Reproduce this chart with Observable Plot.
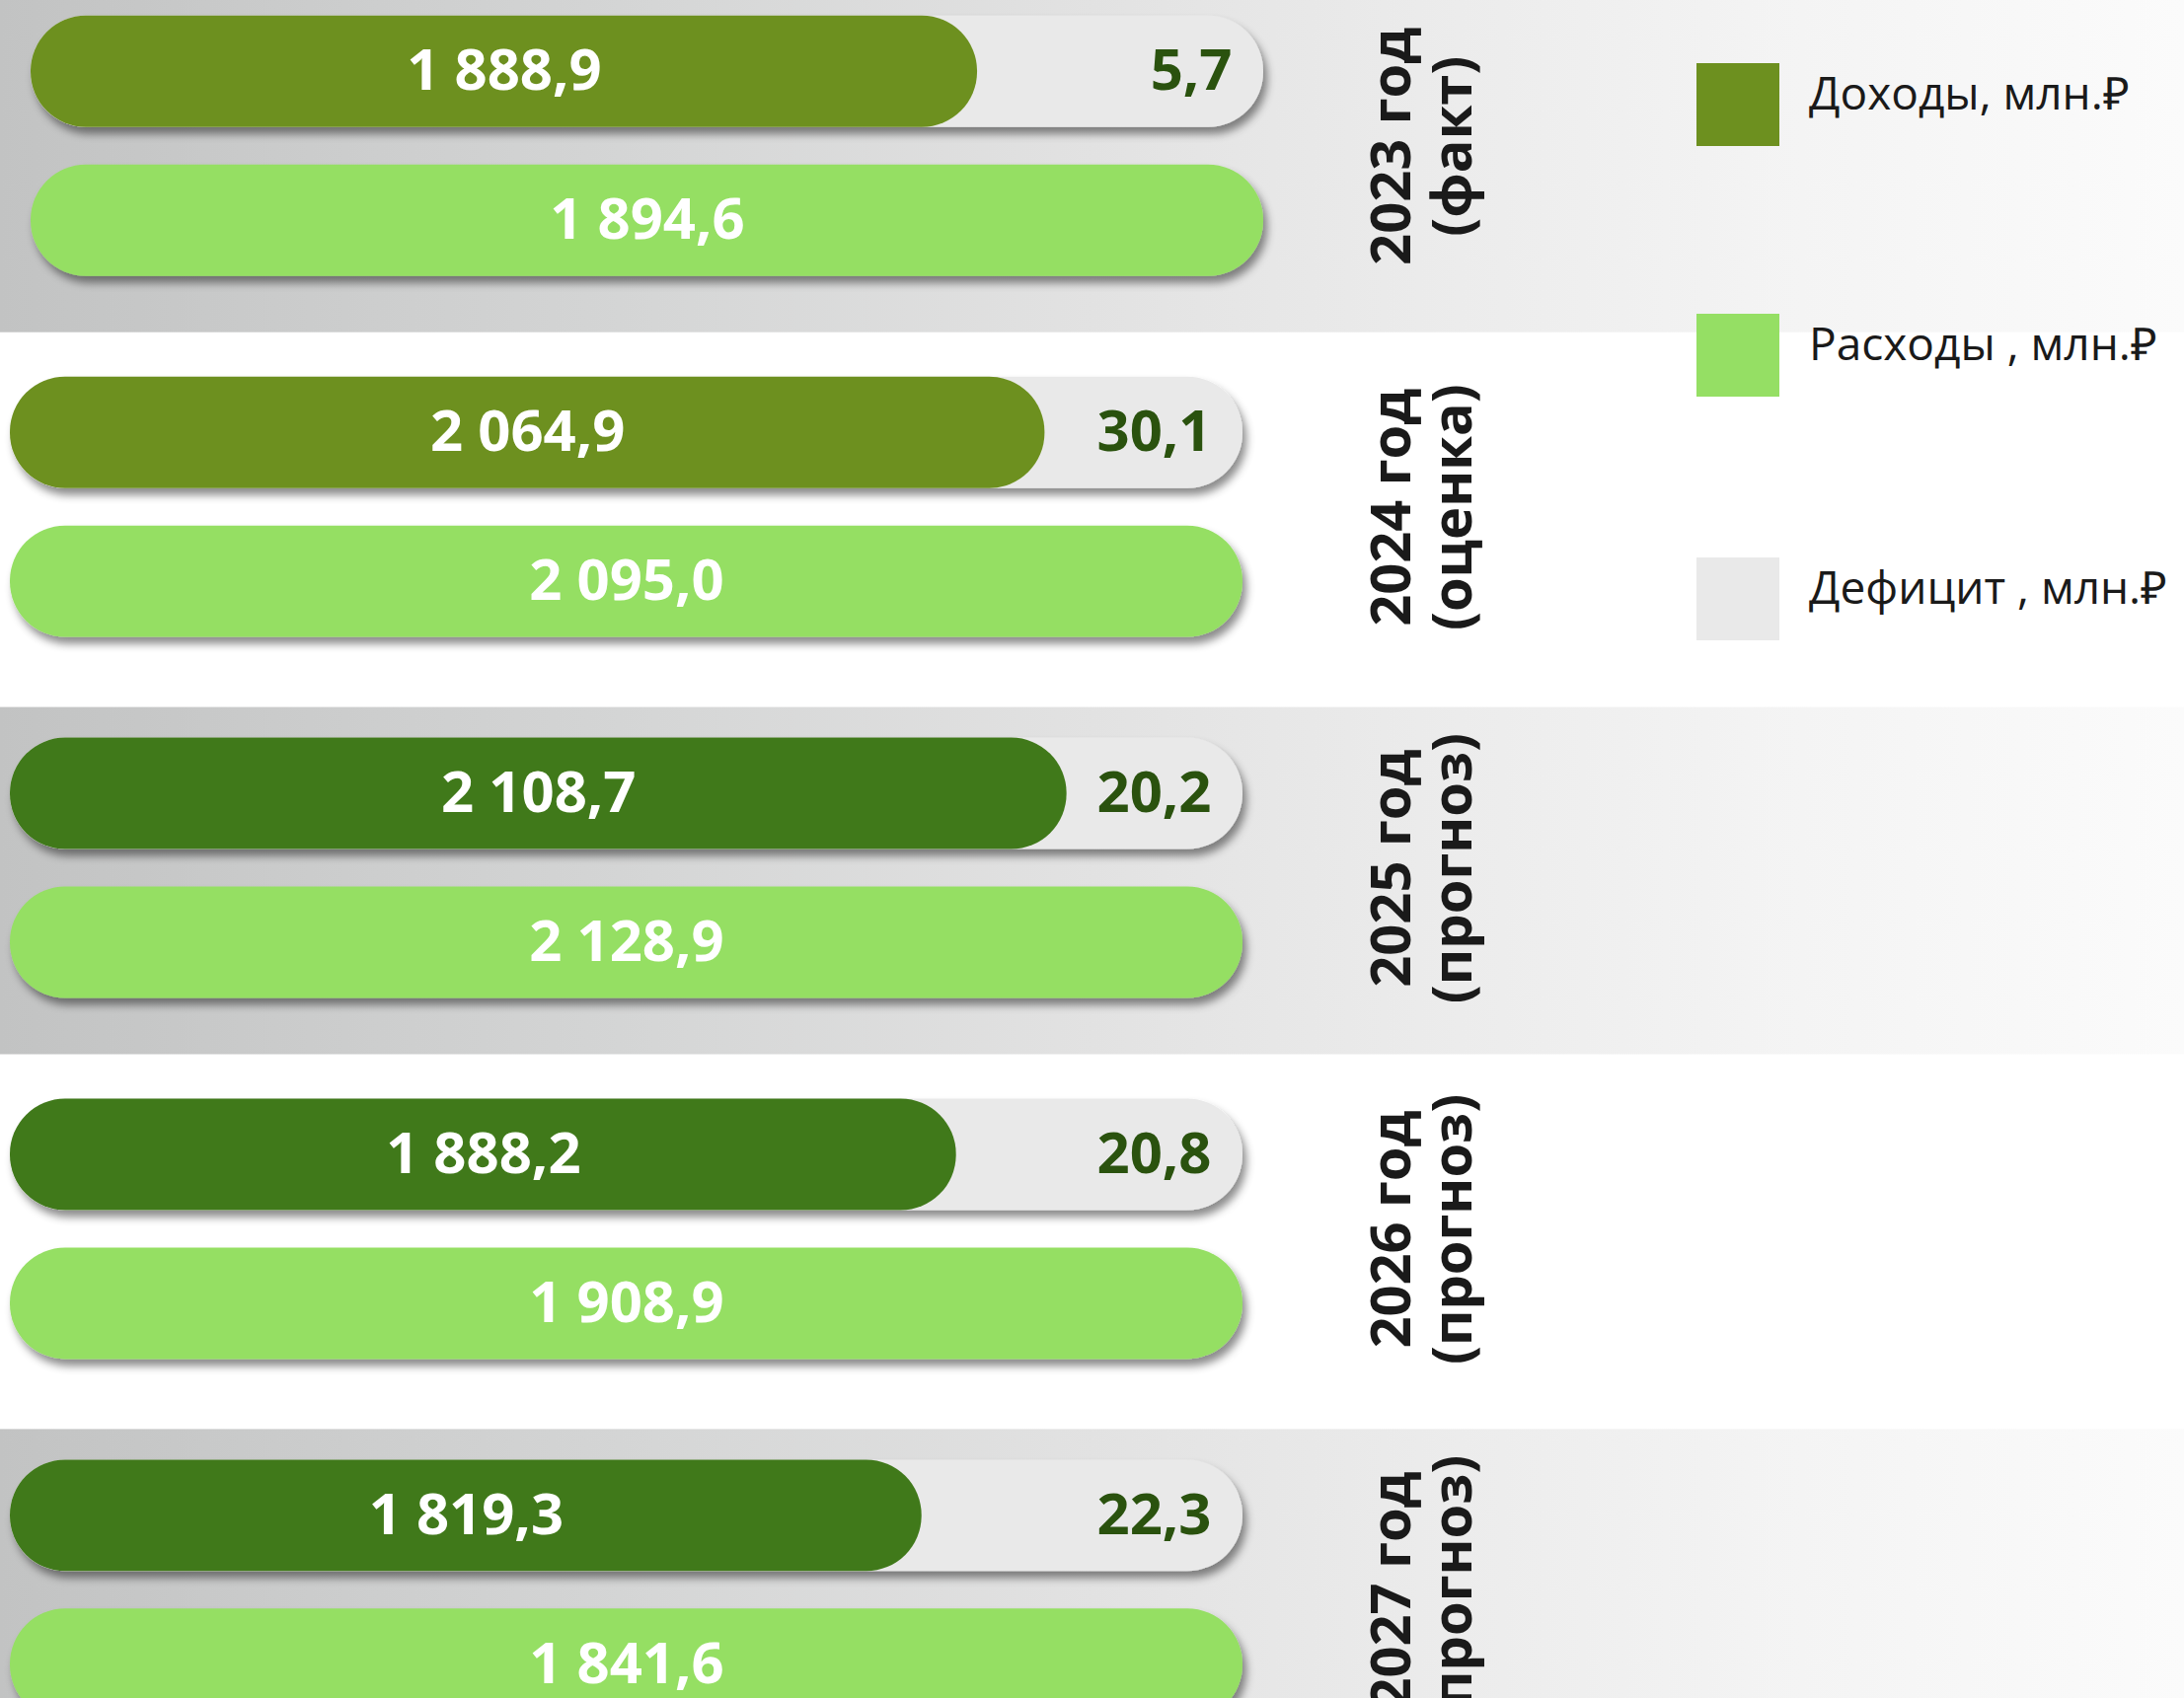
<!DOCTYPE html>
<html>
<head>
<meta charset="utf-8">
<script src="https://cdn.jsdelivr.net/npm/d3@7"></script>
<script src="https://cdn.jsdelivr.net/npm/@observablehq/plot@0.6"></script>
<style>
  html, body { margin: 0; padding: 0; background: #ffffff; }
  #wrap { position: relative; width: 2213px; height: 1721px; overflow: hidden; }
  #wrap svg { display: block; }
  .sw { position: absolute; width: 84px; height: 84px; }
  .lt { position: absolute; font-family: "Open Sans", sans-serif; font-size: 46px; line-height: 46px; color: #1a1a1a; white-space: pre; }
</style>
</head>
<body>
<div id="wrap"></div>
<script>
// ---- data ----
const years = ["2023 год\n(факт)", "2024 год\n(оценка)", "2025 год\n(прогноз)", "2026 год\n(прогноз)", "2027 год\n(прогноз)"];
const income = [1888.9, 2064.9, 2108.7, 1888.2, 1819.3];   // Доходы, млн.₽
const expense = [1894.6, 2095.0, 2128.9, 1908.9, 1841.6];  // Расходы, млн.₽
const deficit = [5.7, 30.1, 20.2, 20.8, 22.3];             // Дефицит, млн.₽
const series = ["Доходы, млн.₽", "Расходы , млн.₽", "Дефицит , млн.₽"];

// ---- layout / style ----
const W = 2213, H = 1721;
const barLeft = 10, barRight = 1259;
const facetStep = 365.9, facetStart = -35.2;
const xMax = 2460;
const colIncomeA = "#6d901f", colIncomeB = "#40791a", colExpense = "#95df64", colTrack = "#e9e9e9", colDef = "#2a520e";
const legendColors = [colIncomeA, colExpense, colTrack];

const fmt = d3.formatLocale({decimal: ",", thousands: " ", grouping: [3], currency: ["", ""]}).format(",.1f");
const rows = years.map((year, i) => ({year, i, income: income[i], expense: expense[i], deficit: deficit[i]}));
const incomeFill = d => d.i < 2 ? colIncomeA : colIncomeB;

const labelFont = {fontSize: 58, fontWeight: 700};

function groupMarks(data, dx) {
  return [
    Plot.barX(data, {fy: "year", y: () => "income", x1: 0, x2: xMax, fill: colTrack, rx: 56, ry: 56, dx}),
    Plot.barX(data, {fy: "year", y: () => "expense", x1: 0, x2: xMax, fill: colExpense, rx: 56, ry: 56, dx}),
    Plot.barX(data, {fy: "year", y: () => "income", x1: 0, x2: "income", fill: incomeFill, rx: 56, ry: 56, dx}),
    Plot.text(data, {fy: "year", y: () => "income", x: d => d.income / 2, text: d => fmt(d.income), fill: "white", ...labelFont, dx}),
    Plot.text(data, {fy: "year", y: () => "expense", frameAnchor: "middle", text: d => fmt(d.expense), fill: "white", ...labelFont, dx}),
    Plot.text(data, {fy: "year", y: () => "income", frameAnchor: "right", textAnchor: "end", text: d => fmt(d.deficit), fill: colDef, ...labelFont, dx: dx - 32})
  ];
}

const chart = Plot.plot({
  width: W,
  height: H,
  marginLeft: barLeft,
  marginRight: W - barRight,
  marginTop: 0,
  marginBottom: 0,
  style: {fontFamily: "'Open Sans', sans-serif", background: "white", overflow: "hidden"},
  x: {domain: [0, xMax], axis: null},
  y: {domain: ["income", "expense"], paddingInner: 0.2517, paddingOuter: 0.338, round: false, axis: null},
  fy: {domain: years, range: [facetStart, facetStart + years.length * facetStep], padding: 0, round: false, axis: null},
  color: {type: "identity"},
  marks: [
    Plot.rect(rows.filter(d => d.i % 2 === 0), {
      fy: "year", fill: "url(#bandGrad)",
      insetLeft: -barLeft, insetRight: -(W - barRight), insetTop: 20, insetBottom: -6
    }),
    ...groupMarks(rows.slice(0, 1), 21),
    ...groupMarks(rows.slice(1), 0),
    Plot.text(rows, {
      fy: "year", text: "year", frameAnchor: "right", rotate: -90, textAnchor: "middle",
      dx: 181, fontSize: 56, fontWeight: 700, lineHeight: 1.107, fill: "#1a1a1a"
    })
  ]
});

// gradient + shadow definitions
const ns = "http://www.w3.org/2000/svg";
const defs = document.createElementNS(ns, "defs");
defs.innerHTML = `
  <linearGradient id="bandGrad" gradientUnits="userSpaceOnUse" x1="0" y1="0" x2="${W}" y2="0">
    <stop offset="0" stop-color="#c2c3c3"/>
    <stop offset="0.3" stop-color="#d5d6d6"/>
    <stop offset="0.5" stop-color="#e2e2e2"/>
    <stop offset="0.65" stop-color="#ebebeb"/>
    <stop offset="0.8" stop-color="#f3f3f3"/>
    <stop offset="1" stop-color="#fbfbfb"/>
  </linearGradient>
  <filter id="pillShadow" x="-5%" y="-20%" width="112%" height="150%">
    <feDropShadow dx="4" dy="7" stdDeviation="4" flood-color="#000000" flood-opacity="0.45"/>
  </filter>`;
chart.insertBefore(defs, chart.firstChild);
chart.querySelectorAll(`g[fill="${colTrack}"] rect, g[fill="${colExpense}"] rect`).forEach(r => r.setAttribute("filter", "url(#pillShadow)"));

const wrap = document.getElementById("wrap");
wrap.appendChild(chart);

// legend (overlaid at the right)
const legendTops = [64, 318, 565];
series.forEach((s, k) => {
  const sw = document.createElement("div");
  sw.className = "sw";
  sw.style.left = "1719px";
  sw.style.top = legendTops[k] + "px";
  sw.style.background = legendColors[k];
  wrap.appendChild(sw);
  const t = document.createElement("div");
  t.className = "lt";
  t.style.left = "1833px";
  t.style.top = (legendTops[k] + 6) + "px";
  t.textContent = s;
  wrap.appendChild(t);
});
</script>
</body>
</html>
